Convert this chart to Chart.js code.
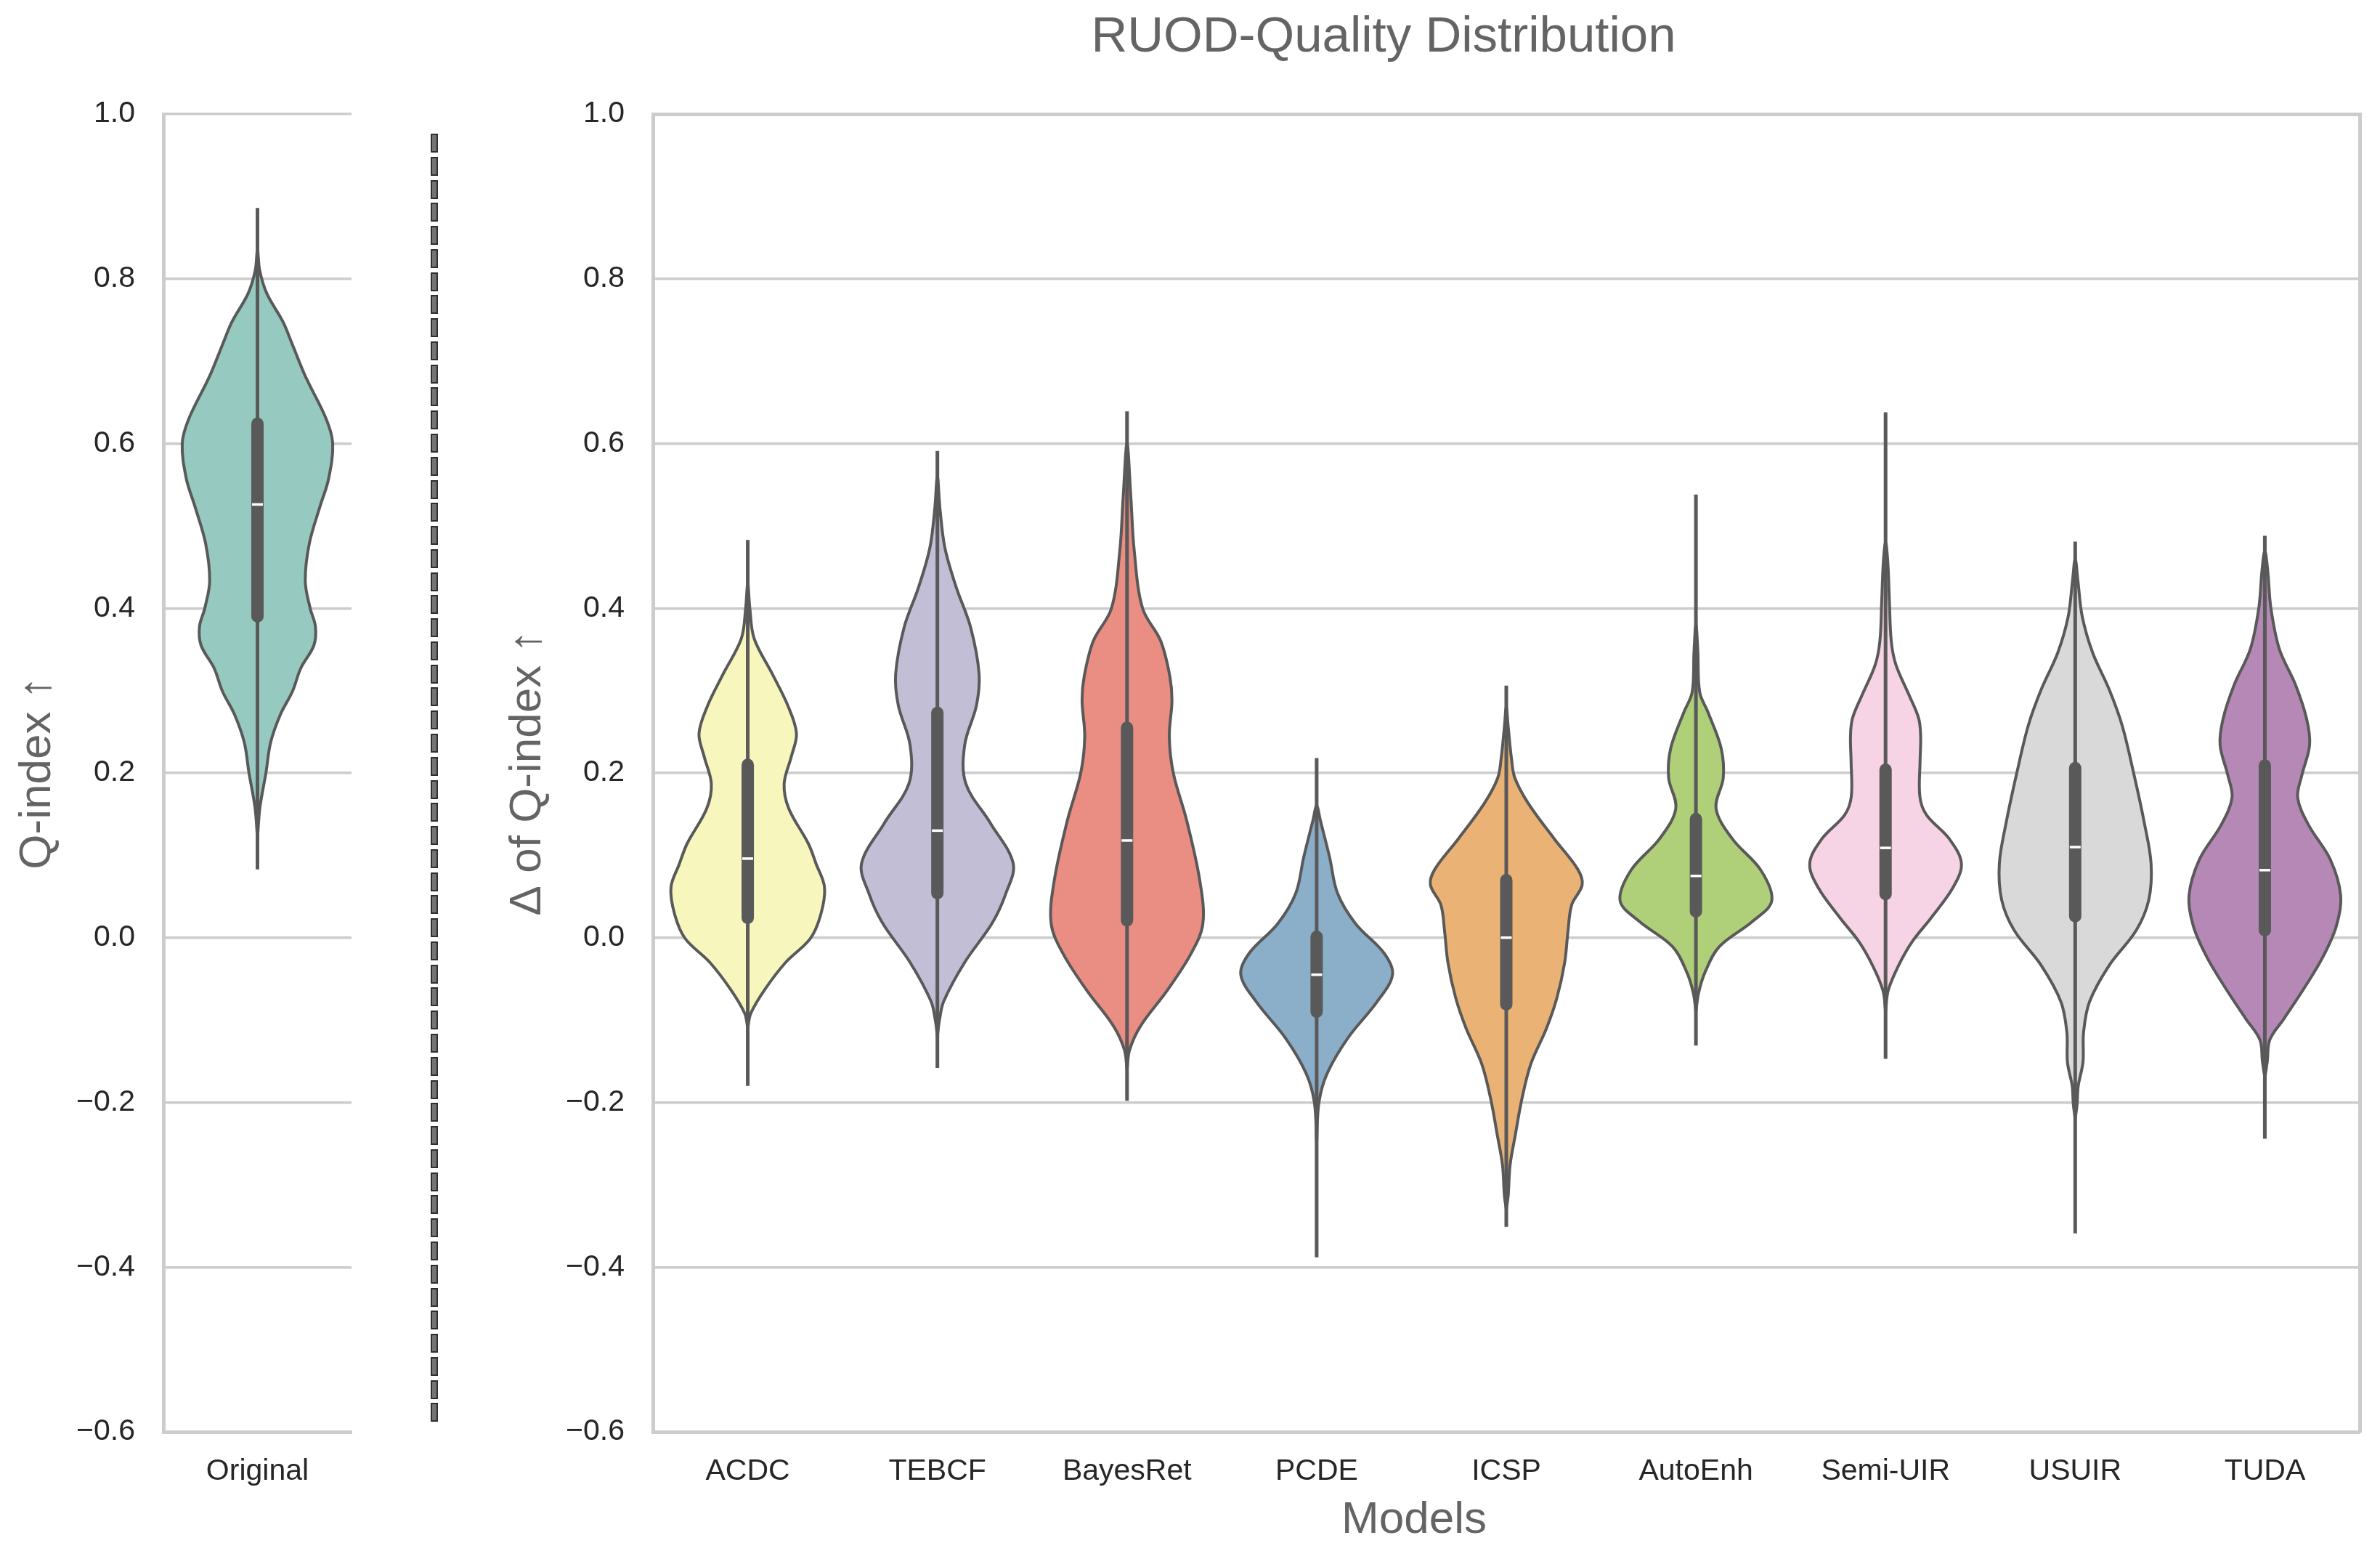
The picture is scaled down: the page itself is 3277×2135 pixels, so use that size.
<!DOCTYPE html>
<html><head><meta charset="utf-8">
<script src="https://cdn.jsdelivr.net/npm/chart.js@4.4.1/dist/chart.umd.min.js"></script>
<style>
html,body{margin:0;padding:0;background:#fff;width:3277px;height:2135px;overflow:hidden;}
canvas{position:absolute;top:0;}
#c1{left:0;}
#c2{left:620px;}
.txt{position:absolute;font-family:"Liberation Sans",Arial,sans-serif;color:#646464;white-space:nowrap;transform:translateX(-50%);}
.dash{position:absolute;box-sizing:border-box;border:2px solid #2e2e2e;background:#747474;}
</style></head><body>
<canvas id="c1" width="560" height="2135"></canvas>
<canvas id="c2" width="2657" height="2135"></canvas>
<div class="txt" style="left:1905px;top:13px;font-size:69px;line-height:69px;">RUOD-Quality Distribution</div>
<div class="txt" style="left:1947px;top:2058px;font-size:62px;line-height:62px;">Models</div>
<div id="sep"></div>
<script>
// ---------- categories & ticks ----------
const originalCategory = ['Original'];
const modelCategories = ['ACDC','TEBCF','BayesRet','PCDE','ICSP','AutoEnh','Semi-UIR','USUIR','TUDA'];
const yTickValues = [-0.6,-0.4,-0.2,0.0,0.2,0.4,0.6,0.8,1.0];
const yTickLabels = ['\u22120.6','\u22120.4','\u22120.2','0.0','0.2','0.4','0.6','0.8','1.0'];

// ---------- box / whisker statistics ----------
const originalWhisker = [0.083, 0.886];
const originalBox = [0.390, 0.624];
const originalMedian = 0.526;

const modelWhiskerLow  = [-0.180,-0.158,-0.198,-0.388,-0.351,-0.131,-0.147,-0.359,-0.244];
const modelWhiskerHigh = [ 0.483, 0.591, 0.639, 0.218, 0.306, 0.538, 0.638, 0.481, 0.488];
const modelQ1          = [ 0.024, 0.054, 0.021,-0.090,-0.081, 0.032, 0.053, 0.026, 0.009];
const modelQ3          = [ 0.210, 0.273, 0.255, 0.001, 0.070, 0.144, 0.204, 0.206, 0.209];
const modelMedian      = [ 0.096, 0.130, 0.118,-0.045, 0.000, 0.075, 0.109, 0.110, 0.082];

// ---------- violin profiles (value level, half-width in category units) ----------
const originalLevels = [0.12,0.158,0.2,0.237,0.271,0.299,0.327,0.355,0.378,0.40,0.433,0.479,0.524,0.557,0.60,0.63,0.681,0.72,0.748,0.782,0.81,0.835];
const originalWidths = [0,0.013,0.045,0.07,0.122,0.186,0.23,0.30,0.308,0.28,0.254,0.276,0.333,0.378,0.40,0.365,0.256,0.186,0.135,0.05,0.012,0];

const acdcLevels = [-0.11,-0.092,-0.063,-0.03,-0.001,0.028,0.061,0.09,0.114,0.157,0.187,0.22,0.248,0.281,0.32,0.363,0.40,0.43];
const acdcWidths = [0,0.016,0.09,0.2,0.33,0.385,0.405,0.36,0.32,0.216,0.192,0.23,0.257,0.213,0.13,0.034,0.011,0];

const tebcfLevels = [-0.12,-0.10,-0.077,-0.03,0.018,0.053,0.09,0.139,0.187,0.234,0.282,0.32,0.377,0.425,0.473,0.52,0.56];
const tebcfWidths = [0,0.011,0.034,0.144,0.29,0.36,0.40,0.28,0.15,0.144,0.206,0.22,0.175,0.10,0.04,0.014,0];

const bayesLevels = [-0.16,-0.136,-0.107,-0.064,-0.02,0.017,0.069,0.142,0.20,0.244,0.288,0.317,0.36,0.40,0.47,0.536,0.60];
const bayesWidths = [0,0.014,0.072,0.212,0.336,0.40,0.384,0.315,0.244,0.223,0.237,0.226,0.178,0.082,0.038,0.02,0];

const pcdeLevels = [-0.25,-0.20,-0.165,-0.122,-0.078,-0.045,-0.019,0.017,0.054,0.098,0.142,0.16];
const pcdeWidths = [0,0.012,0.055,0.164,0.318,0.40,0.356,0.205,0.11,0.068,0.02,0];

const icspLevels = [-0.33,-0.313,-0.276,-0.239,-0.196,-0.153,-0.11,-0.073,-0.03,0.007,0.04,0.064,0.083,0.12,0.163,0.194,0.218,0.256,0.28];
const icspWidths = [0,0.01,0.02,0.048,0.082,0.13,0.212,0.267,0.308,0.325,0.345,0.40,0.377,0.253,0.116,0.045,0.027,0.01,0];

const autoLevels = [-0.09,-0.067,-0.042,-0.011,0.02,0.045,0.082,0.12,0.157,0.194,0.23,0.273,0.298,0.348,0.38];
const autoWidths = [0,0.014,0.048,0.123,0.30,0.40,0.342,0.192,0.106,0.144,0.133,0.065,0.02,0.01,0];

const semiLevels = [-0.09,-0.064,-0.034,-0.005,0.024,0.061,0.09,0.12,0.149,0.171,0.215,0.244,0.266,0.295,0.331,0.36,0.41,0.455,0.48];
const semiWidths = [0,0.014,0.068,0.14,0.24,0.356,0.40,0.336,0.216,0.181,0.182,0.185,0.175,0.123,0.055,0.03,0.02,0.012,0];

const usuirLevels = [-0.22,-0.202,-0.18,-0.151,-0.115,-0.078,-0.034,0.009,0.046,0.09,0.141,0.20,0.258,0.302,0.346,0.39,0.434,0.46];
const usuirWidths = [0,0.01,0.016,0.041,0.044,0.075,0.178,0.322,0.388,0.40,0.363,0.308,0.247,0.178,0.092,0.037,0.014,0];

const tudaLevels = [-0.17,-0.15,-0.124,-0.098,-0.06,-0.023,0.014,0.051,0.095,0.137,0.17,0.197,0.234,0.266,0.308,0.35,0.40,0.446,0.47];
const tudaWidths = [0,0.013,0.026,0.102,0.211,0.307,0.377,0.40,0.345,0.23,0.173,0.195,0.236,0.22,0.16,0.077,0.032,0.015,0];

const modelLevels = [acdcLevels,tebcfLevels,bayesLevels,pcdeLevels,icspLevels,autoLevels,semiLevels,usuirLevels,tudaLevels];
const modelWidths = [acdcWidths,tebcfWidths,bayesWidths,pcdeWidths,icspWidths,autoWidths,semiWidths,usuirWidths,tudaWidths];

// ---------- styles ----------
const originalColor = '#96cac1';
const modelColors = ['#f6f6bd','#c1bed6','#ea8d83','#8bafc9','#eab375','#afcf78','#f6d3e5','#d9d9d9','#b588b6'];
const FONT = '"Liberation Sans", Arial, sans-serif';
const INK = '#595959';
const GRID = '#cccccc';

Chart.defaults.font.family = FONT;

function violinSets(pos, levels, widths, color, wl, wh, q1, q3, med) {
  const right = levels.map((y, k) => ({x: pos + widths[k], y}));
  const left = levels.map((y, k) => ({x: pos - widths[k], y})).reverse().slice(1);
  return [
    {data: right.concat(left), showLine: true, fill: 'shape', backgroundColor: color,
     borderColor: INK, borderWidth: 4, pointRadius: 0, tension: 0.35, order: 4,
     xAxisID: 'x', yAxisID: 'y'},
    {data: [{x: pos, y: wl}, {x: pos, y: wh}], showLine: true, fill: false,
     borderColor: INK, borderWidth: 5, pointRadius: 0, order: 3, xAxisID: 'x', yAxisID: 'y'},
    {data: [{x: pos, y: q1}, {x: pos, y: q3}], showLine: true, fill: false,
     borderColor: INK, borderWidth: 17, borderCapStyle: 'round', pointRadius: 0, order: 2,
     xAxisID: 'x', yAxisID: 'y'},
    {data: [{x: pos, y: med}], showLine: false, pointStyle: 'line', pointRadius: 7.5,
     pointBorderColor: '#ffffff', pointBorderWidth: 3.5, borderColor: '#ffffff', order: 1,
     xAxisID: 'x', yAxisID: 'y'}
  ];
}

function yScale(title, titlePad, width) {
  return {
    type: 'linear', position: 'left', min: -0.6, max: 1.0,
    afterBuildTicks: s => { s.ticks = yTickValues.map(v => ({value: v})); },
    afterFit: s => { s.width = width; },
    ticks: {callback: (v, i) => yTickLabels[i], font: {size: 41, family: FONT}, color: '#262626', padding: 39},
    grid: {color: GRID, lineWidth: 3.5, drawTicks: false},
    border: {display: true, color: GRID, width: 5},
    title: {display: true, text: title, font: {size: 62, family: FONT}, color: '#646464', padding: {top: titlePad, bottom: 0}}
  };
}

function xScale(cats) {
  return {
    type: 'linear', position: 'bottom', min: -0.5, max: cats.length - 0.5,
    afterBuildTicks: s => { s.ticks = cats.map((_, i) => ({value: i})); },
    afterFit: s => { s.height = 164; },
    ticks: {callback: (v) => cats[Math.round(v)], font: {size: 41, family: FONT}, color: '#262626',
            padding: 30, maxRotation: 0, autoSkip: false},
    grid: {display: false, drawTicks: false},
    border: {display: true, color: GRID, width: 5}
  };
}

const common = {
  responsive: false, animation: false, devicePixelRatio: 1,
  plugins: {legend: {display: false}, tooltip: {enabled: false}, title: {display: false}}
};

// ---------- left panel ----------
new Chart(document.getElementById('c1'), {
  type: 'scatter',
  data: {datasets: violinSets(0, originalLevels, originalWidths, originalColor,
          originalWhisker[0], originalWhisker[1], originalBox[0], originalBox[1], originalMedian)},
  options: Object.assign({}, common, {
    layout: {padding: {top: 157, right: 76, bottom: 0, left: 0}},
    scales: {x: xScale(originalCategory), y: yScale('Q-index \u2191', 15, 225)}
  })
});

// ---------- right panel ----------
let sets = [];
modelCategories.forEach((_, i) => {
  sets = sets.concat(violinSets(i, modelLevels[i], modelWidths[i], modelColors[i],
    modelWhiskerLow[i], modelWhiskerHigh[i], modelQ1[i], modelQ3[i], modelMedian[i]));
});
new Chart(document.getElementById('c2'), {
  type: 'scatter',
  data: {datasets: sets},
  options: Object.assign({}, common, {
    layout: {padding: {top: 157, right: 28, bottom: 0, left: 0}},
    scales: {
      x: xScale(modelCategories),
      y: yScale('\u0394 of Q-index \u2191', 70, 279),
      xTop: {type: 'linear', position: 'top', min: 0, max: 1,
             grid: {display: false, drawTicks: false}, ticks: {display: false},
             border: {display: true, color: GRID, width: 5}, afterFit: s => { s.height = 0; }},
      yRight: {type: 'linear', position: 'right', min: 0, max: 1,
             grid: {display: false, drawTicks: false}, ticks: {display: false},
             border: {display: true, color: GRID, width: 5}, afterFit: s => { s.width = 0; }}
    }
  })
});

// ---------- dashed separator ----------
const sep = document.getElementById('sep');
for (let k = 0; k < 56; k++) {
  const d = document.createElement('div');
  d.className = 'dash';
  d.style.left = '593px';
  d.style.top = (184 + k * 31.77) + 'px';
  d.style.width = '10px';
  d.style.height = '26px';
  sep.appendChild(d);
}
</script>
</body></html>
